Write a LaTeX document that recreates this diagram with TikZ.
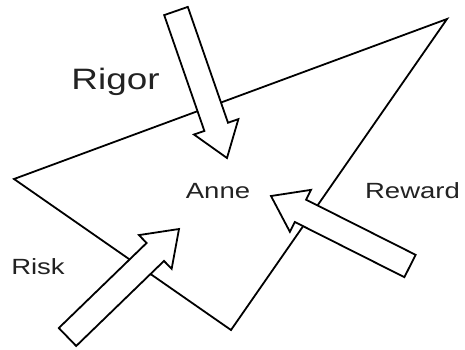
\documentclass[tikz,border=0pt]{standalone}
\usepackage{fontspec}
\usetikzlibrary{calc}
\newfontfamily\lblfont[FakeStretch=1.25]{Liberation Sans}
\definecolor{inkgray}{HTML}{222222}

\tikzset{
  outline/.style={line width=1.8pt, line join=miter, black},
  blockarrow/.style={outline, fill=white},
  lbl/.style={font=\lblfont\fontsize{22}{24}\selectfont, text=inkgray, inner sep=0pt, anchor=base},
  biglbl/.style={lbl, font=\lblfont\fontsize{29.5}{32}\selectfont},
}

% Wide hollow arrow from tail coordinate #1 to tip coordinate #2
\newcommand\fatarrow[2]{%
  \coordinate (#1-base) at ($(#2)!33pt!(#1)$);
  \draw[blockarrow]
    ($(#1)!12.5pt!90:(#2)$) --
    ($(#1-base)!12.5pt!90:(#2)$) --
    ($(#1-base)!23.5pt!90:(#2)$) --
    (#2) --
    ($(#1-base)!23.5pt!-90:(#2)$) --
    ($(#1-base)!12.5pt!-90:(#2)$) --
    ($(#1)!12.5pt!-90:(#2)$) -- cycle;
}

\begin{document}
\begin{tikzpicture}[x=1pt, y=-1pt]
  \useasboundingbox (0,0) rectangle (465,349);

  % triangle
  \coordinate (left) at (14,179);
  \coordinate (top) at (447,19);
  \coordinate (bottom) at (231,330);
  \draw[outline] (left) -- (top) -- (bottom) -- cycle;

  % arrows pointing inward
  \coordinate (rigorTail) at (176,11);
  \coordinate (rigorTip) at (227,158);
  \coordinate (rewardTail) at (410,266);
  \coordinate (rewardTip) at (271,196);
  \coordinate (riskTail) at (67.5,337);
  \coordinate (riskTip) at (179,229);
  \fatarrow{rigorTail}{rigorTip}
  \fatarrow{rewardTail}{rewardTip}
  \fatarrow{riskTail}{riskTip}

  % labels
  \node[biglbl] (rigor) at (115.5,89) {Rigor};
  \node[lbl] (anne) at (218,198) {Anne};
  \node[lbl] (reward) at (412.5,198) {Reward};
  \node[lbl] (risk) at (38,274) {Risk};
\end{tikzpicture}
\end{document}
